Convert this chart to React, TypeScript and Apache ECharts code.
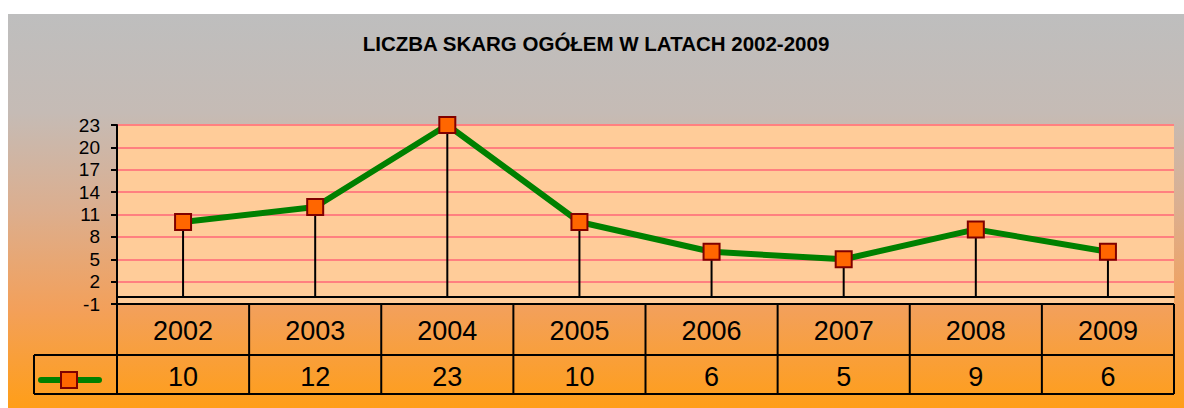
import React, { useEffect, useRef } from "react";
import * as echarts from "echarts";

const years = ["2002", "2003", "2004", "2005", "2006", "2007", "2008", "2009"];
const counts = [10, 12, 23, 10, 6, 5, 9, 6];
const yMin = -1;
const yMax = 23;
const yStep = 3;
const titleText = "LICZBA SKARG OGÓŁEM W LATACH 2002-2009";

const W = 1176;
const H = 394;
const GL = 109;
const GR = 10;
const GT = 111;
const GB = 104;
const FONT = "'Liberation Sans', Arial, sans-serif";

export default function App() {
  const ref = useRef<HTMLDivElement>(null);
  useEffect(() => {
    if (!ref.current) return;
    const chart = echarts.init(ref.current, null, { renderer: "svg" });
    const plotW = W - GL - GR;
    const colW = plotW / years.length;
    const tTop = H - GB;
    const tMid = 341;
    const tBot = 380;
    const legL = 26;
    const lineStyle = { stroke: "#000", lineWidth: 2 };
    const g: any[] = [];
    g.push({ type: "line", shape: { x1: GL, y1: tTop, x2: W - GR, y2: tTop }, style: lineStyle, z: 10 });
    g.push({ type: "line", shape: { x1: legL, y1: tMid, x2: W - GR, y2: tMid }, style: lineStyle, z: 10 });
    g.push({ type: "line", shape: { x1: legL, y1: tBot, x2: W - GR, y2: tBot }, style: lineStyle, z: 10 });
    g.push({ type: "line", shape: { x1: legL, y1: tMid, x2: legL, y2: tBot }, style: lineStyle, z: 10 });
    for (let k = 0; k <= years.length; k++) {
      const x = GL + k * colW;
      g.push({ type: "line", shape: { x1: x, y1: tTop, x2: x, y2: tBot }, style: lineStyle, z: 10 });
    }
    years.forEach((yr, i) => {
      const cx = GL + (i + 0.5) * colW;
      g.push({
        type: "text", x: cx, y: (tTop + tMid) / 2 + 1, z: 11,
        style: { text: yr, fill: "#000", font: `27px ${FONT}`, textAlign: "center", textVerticalAlign: "middle" },
      });
      g.push({
        type: "text", x: cx, y: (tMid + tBot) / 2 + 2, z: 11,
        style: { text: String(counts[i]), fill: "#000", font: `27px ${FONT}`, textAlign: "center", textVerticalAlign: "middle" },
      });
    });
    g.push({ type: "line", shape: { x1: 33, y1: 366, x2: 91, y2: 366 }, style: { stroke: "#008000", lineWidth: 6, lineCap: "round" }, z: 11 });
    g.push({ type: "rect", shape: { x: 53, y: 358, width: 16, height: 16 }, style: { fill: "#FF6600", stroke: "#800000", lineWidth: 2 }, z: 12 });

    chart.setOption({
      animation: false,
      backgroundColor: {
        type: "linear", x: 0, y: 0, x2: 0, y2: 1,
        colorStops: [
          { offset: 0, color: "#BEBEBE" },
          { offset: 0.25, color: "#C5BBB5" },
          { offset: 0.5, color: "#DCAE8E" },
          { offset: 0.75, color: "#F3A05A" },
          { offset: 1, color: "#FF9E18" },
        ],
      },
      title: {
        text: titleText, left: "center", top: 14,
        textStyle: { fontFamily: FONT, fontSize: 20.5, fontWeight: "bold", color: "#000" },
      },
      grid: { left: GL, right: GR, top: GT, bottom: GB, show: true, backgroundColor: "#FFCC99", borderWidth: 0 },
      xAxis: {
        type: "category", data: years,
        axisLine: { show: true, onZero: true, lineStyle: { color: "#000", width: 2 } },
        axisTick: { show: false }, axisLabel: { show: false }, splitLine: { show: false },
      },
      yAxis: {
        type: "value", min: yMin, max: yMax, interval: yStep,
        axisLine: { show: true, lineStyle: { color: "#000", width: 2 } },
        axisTick: { show: true, length: 6, lineStyle: { color: "#000", width: 2 } },
        axisLabel: { color: "#000", fontFamily: FONT, fontSize: 19, margin: 17 },
        splitLine: { show: true, lineStyle: { color: "#FF8080", width: 2 } },
      },
      series: [
        { type: "bar", data: counts, barWidth: 2, itemStyle: { color: "#000" }, z: 2, silent: true },
        {
          type: "line", data: counts, symbol: "rect", symbolSize: 16, z: 3,
          lineStyle: { color: "#008000", width: 6 },
          itemStyle: { color: "#FF6600", borderColor: "#800000", borderWidth: 2 },
        },
      ],
      graphic: g,
    });
    return () => chart.dispose();
  }, []);
  return <div ref={ref} style={{ position: "absolute", left: 8, top: 14, width: W, height: H }} />;
}
